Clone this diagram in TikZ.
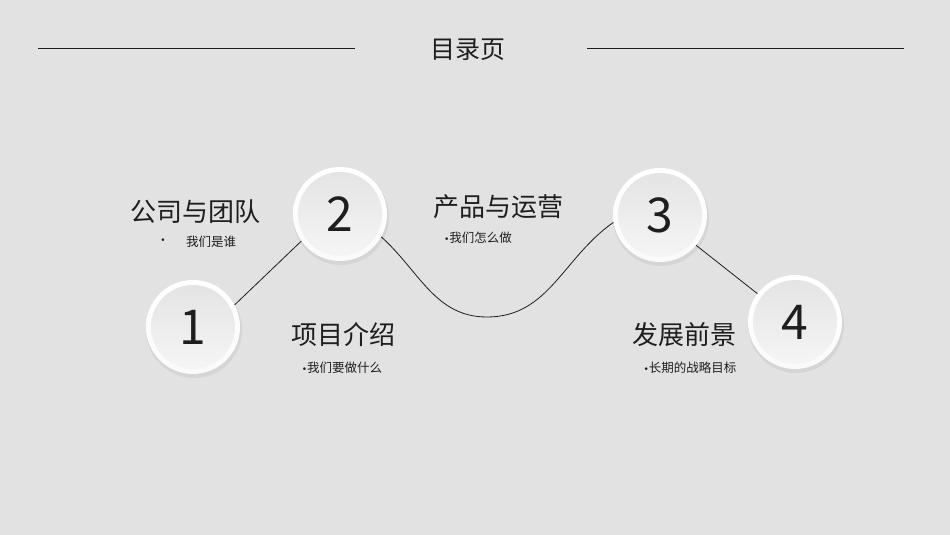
\documentclass[tikz,border=0pt]{standalone}
\usepackage{fontspec}
\setmainfont{Noto Sans CJK SC}
\newfontfamily\dotfont{DejaVu Sans}
\usetikzlibrary{shadows}
\definecolor{paper}{RGB}{226,226,226}
\definecolor{ink}{RGB}{30,30,30}
\newcommand{\dotmark}{{\dotfont\fontsize{9}{10}\selectfont •}}

\begin{document}
\begin{tikzpicture}[x=1pt,y=1pt,
  ball/.style={circle,minimum size=94pt,inner sep=0pt,draw=none,
    top color=white,bottom color=gray!4,
    drop shadow={opacity=0.13,shadow xshift=1pt,shadow yshift=-3pt,
      shadow scale=1.02},
    path picture={\shade[top color=gray!22,bottom color=gray!7]
      (path picture bounding box.center) circle (42pt);},
    font=\fontsize{48}{60}\selectfont,text=ink},
  head/.style={font=\fontsize{26}{30}\selectfont,text=ink,inner sep=0pt},
  sub/.style={font=\fontsize{12.5}{15}\selectfont,text=ink,inner sep=0pt}]
  \useasboundingbox[fill=paper] (0,0) rectangle (950,535);

  % title and rules
  \node[font=\fontsize{25}{30}\selectfont,text=ink] (title) at (468,485) {目录页};
  \coordinate (rl1) at (38,487);  \coordinate (rl2) at (355,487);
  \coordinate (rr1) at (587,487); \coordinate (rr2) at (904,487);
  \draw[ink,line width=0.8pt] (rl1) -- (rl2) (rr1) -- (rr2);

  % numbered balls
  \node[ball] (c1) at (193,208) {1};
  \node[ball] (c2) at (340,321) {2};
  \node[ball] (c3) at (660,320) {3};
  \node[ball] (c4) at (795,213) {4};

  % connectors
  \coordinate (low) at (487,218);
  \path[draw=ink,line width=0.8pt]
    (c1.28) edge (c2.215)
    (c3.-40) edge (c4.143);
  \draw[ink,line width=0.8pt] (c2.-29) to[out=-42,in=180] (low)
    to[out=0,in=215] (c3.189);

  % labels
  \node[head] (h1) at (195,323) {公司与团队};
  \node[sub]  (b1) at (163,294) {\dotmark};
  \node[sub]  (s1) at (211,293) {我们是谁};
  \node[head] (h2) at (343,200) {项目介绍};
  \node[sub]  (s2) at (342,167) {\dotmark 我们要做什么};
  \node[head] (h3) at (498,328) {产品与运营};
  \node[sub]  (s3) at (478,297) {\dotmark 我们怎么做};
  \node[head] (h4) at (684,200) {发展前景};
  \node[sub]  (s4) at (690,167) {\dotmark 长期的战略目标};
\end{tikzpicture}
\end{document}
